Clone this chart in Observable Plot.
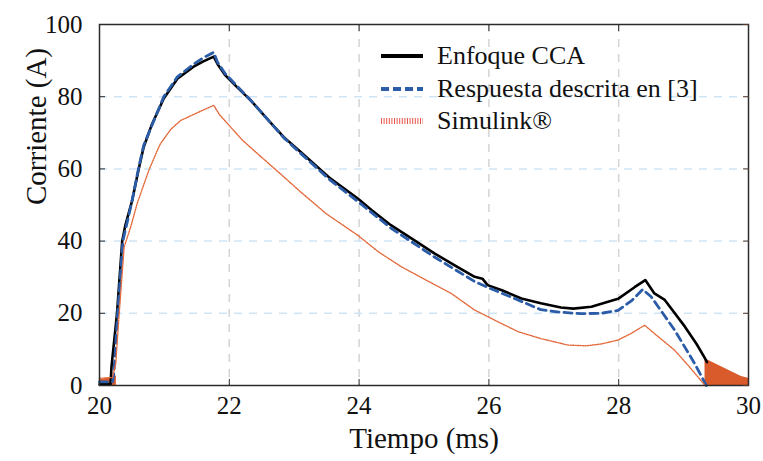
<!DOCTYPE html>
<html>
<head>
<meta charset="utf-8">
<script src="https://cdn.jsdelivr.net/npm/d3@7"></script>
<script src="https://cdn.jsdelivr.net/npm/@observablehq/plot@0.6"></script>
<style>
  html, body { margin: 0; padding: 0; background: #fff; }
  #wrap { position: relative; width: 763px; height: 461px; font-family: "Liberation Serif", "Times New Roman", Times, "DejaVu Serif", serif; }
  #legend { position: absolute; left: 381px; top: 40px; font-size: 26px; color: #111; font-family: "Liberation Serif", "Times New Roman", Times, "DejaVu Serif", serif; }
  .row { display: flex; align-items: center; height: 32.5px; }
  .row svg { width: 42px; height: 12px; margin-right: 14px; }
</style>
</head>
<body>
<div id="wrap"><div id="legend"></div></div>
<script>
// ---- data ----
const xTicks = [20, 22, 24, 26, 28, 30];
const yTicks = [0, 20, 40, 60, 80, 100];
const xGrid = [22, 24, 26, 28];
const yGrid = [20, 40, 60, 80];

const seriesNames = ["Enfoque CCA", "Respuesta descrita en [3]", "Simulink®"];

const tCCA = [20.00, 20.17, 20.185, 20.27, 20.35, 20.40, 20.50, 20.60, 20.68, 20.80, 20.99, 21.20, 21.45, 21.60, 21.76, 21.82, 21.94, 22.10, 22.33, 22.60, 22.84, 23.10, 23.56, 23.98, 24.20, 24.49, 24.80, 25.16, 25.50, 25.78, 25.90, 25.98, 26.20, 26.50, 26.80, 27.11, 27.30, 27.58, 27.99, 28.25, 28.41, 28.55, 28.71, 29.02, 29.20, 29.33, 29.36];
const iCCA = [0.3, 0.4, 5.2, 20.0, 40.0, 44.5, 51.0, 59.6, 66.0, 72.0, 79.5, 85.0, 88.3, 89.8, 91.1, 89.0, 85.9, 83.0, 79.0, 73.5, 68.8, 64.7, 57.3, 51.8, 48.5, 44.4, 40.8, 36.6, 33.0, 30.1, 29.6, 27.8, 26.4, 24.1, 22.8, 21.6, 21.3, 21.8, 24.0, 27.3, 29.2, 25.5, 23.7, 16.3, 11.5, 7.5, 6.5];

const tRef = [20.00, 20.20, 20.22, 20.28, 20.36, 20.50, 20.60, 20.68, 20.99, 21.20, 21.45, 21.60, 21.76, 21.82, 21.94, 22.33, 22.84, 23.10, 23.56, 23.98, 24.49, 25.16, 25.78, 25.98, 26.50, 26.80, 27.10, 27.42, 27.73, 27.99, 28.20, 28.37, 28.50, 28.86, 29.17, 29.35];
const iRef = [1.0, 1.0, 3.0, 20.0, 40.0, 51.0, 60.0, 66.5, 80.0, 85.5, 89.0, 90.8, 92.3, 89.5, 86.3, 79.0, 68.6, 64.3, 56.8, 51.0, 43.6, 35.6, 28.8, 27.2, 23.3, 21.0, 20.3, 19.9, 20.0, 20.8, 23.5, 26.6, 24.6, 15.4, 6.1, 0.0];

const tSim = [20.00, 20.20, 20.25, 20.30, 20.38, 20.48, 20.58, 20.76, 20.89, 20.94, 21.10, 21.25, 21.50, 21.76, 21.85, 22.02, 22.20, 22.43, 22.84, 23.10, 23.50, 23.98, 24.30, 24.65, 25.00, 25.42, 25.78, 26.10, 26.45, 26.80, 27.22, 27.50, 27.73, 27.99, 28.20, 28.40, 28.55, 28.86, 29.05, 29.22, 29.33];
const iSim = [2.0, 2.2, 6.0, 19.0, 38.4, 43.9, 50.4, 59.6, 65.1, 67.0, 71.0, 73.4, 75.5, 77.6, 75.0, 71.6, 68.0, 64.3, 57.8, 53.6, 47.5, 41.6, 37.0, 32.9, 29.5, 25.5, 20.9, 18.0, 14.9, 13.0, 11.2, 11.0, 11.5, 12.6, 14.5, 16.7, 14.4, 9.8, 6.0, 2.4, 0.0];

// oscillation envelopes of the Simulink trace (drawn filled)
const tSimHead = [20.00, 20.26];
const iSimHead = [1.5, 2.6];
const tSimTail = [29.33, 29.89, 30.00];
const iSimTail = [7.4, 2.5, 2.0];

// ---- build tables ----
const zip = (t, v) => t.map((x, i) => ({t: x, v: v[i]}));
const cca = zip(tCCA, iCCA), ref = zip(tRef, iRef), sim = zip(tSim, iSim);
const head = zip(tSimHead, iSimHead), tail = zip(tSimTail, iSimTail);

const cBlack = "#000000", cBlue = "#2a5ca8", cOrange = "#d95a2b";
const serif = "'Liberation Serif', 'Times New Roman', Times, 'DejaVu Serif', serif";

const chart = Plot.plot({
  width: 763, height: 461,
  marginLeft: 99, marginRight: 15, marginTop: 24, marginBottom: 76,
  style: {fontFamily: serif, fontSize: "25px", color: "#111", background: "white", overflow: "visible"},
  x: {domain: [20, 30]},
  y: {domain: [0, 100]},
  marks: [
    Plot.ruleX(xGrid, {stroke: "#d4d4d4", strokeWidth: 1.5, strokeDasharray: "8,7"}),
    Plot.ruleY(yGrid, {stroke: "#cfe5f5", strokeWidth: 1.5, strokeDasharray: "8,7"}),
    Plot.areaY(head, {x: "t", y: "v", fill: cOrange}),
    Plot.areaY(tail, {x: "t", y: "v", fill: cOrange}),
    Plot.line(cca, {x: "t", y: "v", stroke: cBlack, strokeWidth: 2.6}),
    Plot.line(ref, {x: "t", y: "v", stroke: cBlue, strokeWidth: 2.8, strokeDasharray: "8,5"}),
    Plot.line(sim, {x: "t", y: "v", stroke: "#e3693a", strokeWidth: 1.4, strokeDasharray: "1.2,1.3"}),
    Plot.frame({stroke: "#2b2b2b", strokeWidth: 1.5}),
    Plot.axisX(xTicks, {anchor: "bottom", tickSize: -6, tickPadding: 17, label: null, stroke: "#2b2b2b", fontFamily: serif}),
    Plot.axisX(xTicks, {anchor: "top", tickSize: -6, tickFormat: () => "", label: null, stroke: "#2b2b2b"}),
    Plot.axisY(yTicks, {anchor: "left", tickSize: -6, tickPadding: 23, label: null, stroke: "#2b2b2b", fontFamily: serif}),
    Plot.axisY(yTicks, {anchor: "right", tickSize: -6, tickFormat: () => "", label: null, stroke: "#5a3a2a"}),
    Plot.text(["Tiempo (ms)"], {frameAnchor: "bottom", dy: 62, fontSize: 29, fill: "#111", fontFamily: serif}),
    Plot.text(["Corriente (A)"], {frameAnchor: "left", dx: -63, rotate: -90, fontSize: 29, fill: "#111", fontFamily: serif})
  ]
});

const wrap = document.getElementById("wrap");
wrap.insertBefore(chart, wrap.firstChild);

// legend
const legendStyles = [
  {stroke: cBlack, width: 4, dash: null},
  {stroke: cBlue, width: 4, dash: "8,4"},
  {stroke: "#e8554a", width: 6, dash: "1,1.6"}
];
const legend = document.getElementById("legend");
seriesNames.forEach((name, i) => {
  const s = legendStyles[i];
  const row = document.createElement("div");
  row.className = "row";
  row.innerHTML = `<svg viewBox="0 0 42 12"><line x1="0" x2="42" y1="6" y2="6" stroke="${s.stroke}" stroke-width="${s.width}" ${s.dash ? `stroke-dasharray="${s.dash}"` : ""}/></svg><span>${name}</span>`;
  legend.appendChild(row);
});
</script>
</body>
</html>
